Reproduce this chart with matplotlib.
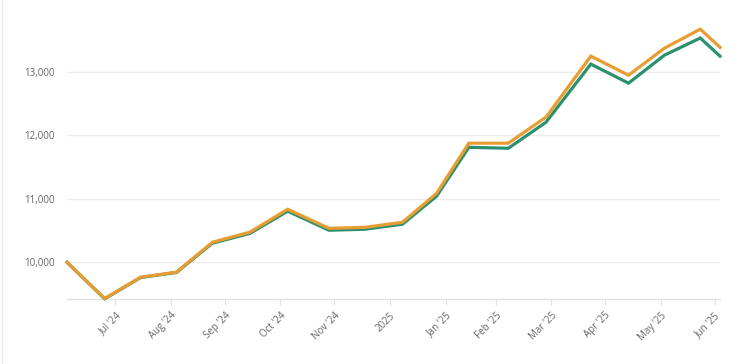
import matplotlib
matplotlib.use("Agg")
import matplotlib.pyplot as plt
from matplotlib.lines import Line2D
import pandas as pd

dates = ["2024-07-05", "2024-07-26", "2024-08-15", "2024-09-04", "2024-09-24",
         "2024-10-15", "2024-11-05", "2024-11-28", "2024-12-18", "2025-01-08",
         "2025-01-27", "2025-02-14", "2025-03-08", "2025-03-29", "2025-04-23",
         "2025-05-14", "2025-06-03", "2025-06-23", "2025-07-04"]
orange = [10000, 9430, 9765, 9845, 10315, 10475, 10835, 10535, 10550, 10630,
          11085, 11875, 11875, 12285, 13245, 12945, 13370, 13670, 13385]
green = [10000, 9425, 9760, 9840, 10300, 10455, 10805, 10505, 10520, 10600,
         11040, 11810, 11795, 12205, 13120, 12820, 13260, 13530, 13245]

tick_dates = ["2024-08-01", "2024-09-01", "2024-10-01", "2024-11-01", "2024-12-01",
              "2025-01-01", "2025-02-01", "2025-03-01", "2025-04-01", "2025-05-01",
              "2025-06-01", "2025-07-01"]
tick_labels = ["Jul '24", "Aug '24", "Sep '24", "Oct '24", "Nov '24", "2025",
               "Jan '25", "Feb '25", "Mar '25", "Apr '25", "May '25", "Jun '25"]
y_ticks = [10000, 11000, 12000, 13000]

plt.rcParams['font.family'] = ['Open Sans', 'DejaVu Sans']

x = pd.to_datetime(dates)
fig = plt.figure(figsize=(7.53, 3.64), dpi=100)
ax = fig.add_axes([67 / 753, (364 - 299) / 364, (720 - 67) / 753, 299 / 364])

ax.plot(x, green, color="#2a9070", lw=2.3, solid_joinstyle="miter", zorder=3, clip_on=False)
ax.plot(x, orange, color="#e89d33", lw=2.3, solid_joinstyle="miter", zorder=4, clip_on=False)

ax.set_xlim(x[0], x[-1])
ax.set_ylim(9422, 14129)
ax.set_yticks(y_ticks)
ax.set_yticklabels([f"{v:,}" for v in y_ticks])
ax.set_xticks(pd.to_datetime(tick_dates))
ax.set_xticklabels(tick_labels, rotation=45, ha="right", rotation_mode="anchor")

ax.grid(axis="y", color="#ececec", lw=1)
for s in ["top", "right", "left"]:
    ax.spines[s].set_visible(False)
ax.spines["bottom"].set_color("#e3e3e3")
ax.spines["bottom"].set_linewidth(1)
ax.tick_params(axis="y", length=0, pad=9, labelsize=7, labelcolor="#666666")
ax.tick_params(axis="x", length=4, width=0.8, color="#e3e3e3", pad=4,
               labelsize=7, labelcolor="#666666")

fig.add_artist(Line2D([2 / 753, 2 / 753], [0, 1], color="#eeeeee", lw=1,
                      transform=fig.transFigure))

fig.savefig("out.png", dpi=100)
